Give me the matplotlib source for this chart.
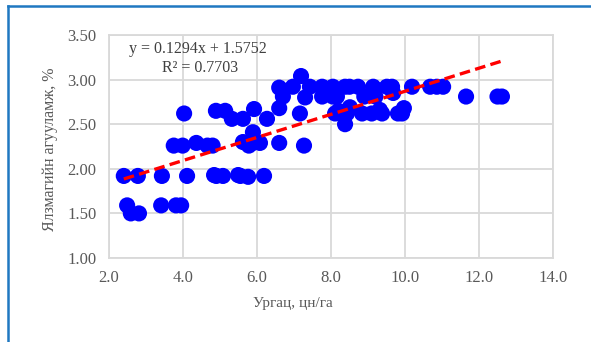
import matplotlib
matplotlib.use("Agg")
import matplotlib.pyplot as plt
from matplotlib.lines import Line2D
import numpy as np

# Ургац (x) ба ялзмагийн агууламж (y)
urgats = [2.40, 2.78, 3.43, 4.11, 4.84, 4.90, 5.08, 5.49, 5.55, 5.76, 6.19,
          2.49, 2.59, 2.81, 3.41, 3.81, 3.95,
          3.75, 3.99, 4.36, 4.66, 4.80,
          4.03, 4.89, 5.14, 5.32, 5.62, 5.92, 6.27, 5.89, 5.62, 5.78, 5.89, 6.08,
          6.60, 7.27,
          6.60, 6.60, 6.70, 6.97, 7.19, 7.16,
          7.30, 7.43, 7.76, 7.76, 8.05, 8.05, 8.16, 8.38, 8.50, 8.73, 8.90,
          9.14, 9.20, 9.51, 9.65, 9.68,
          8.11, 8.20, 8.43, 8.51, 8.38, 8.84, 9.10, 9.38, 9.32, 9.81, 9.97, 9.92,
          10.19, 10.68, 10.86, 11.03, 11.65, 12.50, 12.62]
yalzmag = [1.92, 1.92, 1.92, 1.92, 1.93, 1.92, 1.92, 1.93, 1.92, 1.91, 1.92,
           1.59, 1.50, 1.50, 1.59, 1.59, 1.59,
           2.26, 2.26, 2.29, 2.26, 2.26,
           2.62, 2.65, 2.65, 2.56, 2.56, 2.67, 2.56, 2.41, 2.30, 2.26, 2.29, 2.29,
           2.29, 2.26,
           2.68, 2.91, 2.81, 2.92, 3.04, 2.62,
           2.80, 2.92, 2.92, 2.81, 2.92, 2.81, 2.81, 2.92, 2.92, 2.92, 2.81,
           2.92, 2.81, 2.92, 2.92, 2.85,
           2.62, 2.65, 2.62, 2.69, 2.50, 2.62, 2.62, 2.62, 2.66, 2.62, 2.68, 2.62,
           2.92, 2.92, 2.92, 2.92, 2.81, 2.81, 2.81]

# trend line from the label
slope = 0.1294
intercept = 1.5752
eq_text = "y = 0.1294x + 1.5752"
r2_text = "R² = 0.7703"

xticks = [2, 4, 6, 8, 10, 12, 14]
yticks = [1.0, 1.5, 2.0, 2.5, 3.0, 3.5]

W, H = 591, 342
fig = plt.figure(figsize=(W / 100, H / 100), dpi=100)
fig.patch.set_facecolor("white")
ax = fig.add_axes([109 / W, 1 - 258 / H, 444 / W, 223 / H])

grid_c = "#D9D9D9"
txt_c = "#595959"
serif = "Liberation Serif"

ax.scatter(urgats, yalzmag, s=135, color="#0000FF", edgecolors="none", zorder=3)

xs = np.array([min(urgats), max(urgats)])
ax.plot(xs, slope * xs + intercept, color="#FF0000", lw=2.4,
        dashes=(3.2, 1.6), zorder=4)

ax.set_xlim(2, 14)
ax.set_ylim(1, 3.5)
ax.set_xticks(xticks)
ax.set_yticks(yticks)
ax.set_xticklabels([f"{v:.1f}" for v in xticks])
ax.set_yticklabels([f"{v:.2f}" for v in yticks])
ax.grid(True, color=grid_c, lw=1.3, zorder=0)
ax.set_axisbelow(True)
for sp in ax.spines.values():
    sp.set_color(grid_c)
    sp.set_linewidth(1.3)
ax.tick_params(length=0, labelsize=12, labelcolor=txt_c)
ax.tick_params(axis="y", pad=9)
ax.tick_params(axis="x", pad=9)
for lab in ax.get_xticklabels() + ax.get_yticklabels():
    lab.set_fontfamily(serif)

ax.text(0.200, 0.937, eq_text, transform=ax.transAxes, ha="center", va="center",
        fontsize=11.5, color="#404040", family=serif)
ax.text(0.205, 0.852, r2_text, transform=ax.transAxes, ha="center", va="center",
        fontsize=11.5, color="#404040", family=serif)

fig.text(293 / W, 1 - 304 / H, "Ургац, цн/га", ha="center", va="center",
         fontsize=11, color=txt_c, family=serif)
fig.text(50 / W, 1 - 149 / H, "Ялзмагийн агууламж, %", ha="center", va="center",
         rotation=90, fontsize=11.5, color=txt_c, family=serif)

# blue frame on left and top
fig.add_artist(Line2D([7.5 / W, 7.5 / W], [0, 1 - 5.5 / H], color="#1F78C1",
                      lw=1.8, transform=fig.transFigure))
fig.add_artist(Line2D([7.5 / W, 1], [1 - 5.5 / H, 1 - 5.5 / H], color="#1F78C1",
                      lw=1.8, transform=fig.transFigure))

fig.savefig("out.png", dpi=100)
